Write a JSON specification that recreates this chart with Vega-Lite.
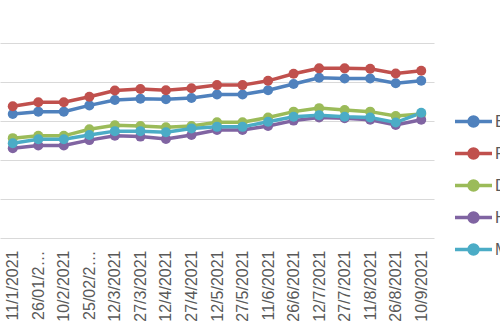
{
  "$schema": "https://vega.github.io/schema/vega-lite/v6.json",
  "width": 434,
  "height": 195,
  "autosize": {"type": "none"},
  "padding": {"left": 0, "top": 43, "right": 66, "bottom": 95},
  "background": "white",
  "config": {"view": {"stroke": null}, "font": "Liberation Sans"},
  "data": {"values": [
    {"date":"11/1/2021","series":"B","value":3.18},{"date":"26/01/2021","series":"B","value":3.24},{"date":"10/2/2021","series":"B","value":3.24},{"date":"25/02/2021","series":"B","value":3.40},{"date":"12/3/2021","series":"B","value":3.54},{"date":"27/3/2021","series":"B","value":3.57},{"date":"12/4/2021","series":"B","value":3.56},{"date":"27/4/2021","series":"B","value":3.59},{"date":"12/5/2021","series":"B","value":3.68},{"date":"27/5/2021","series":"B","value":3.68},{"date":"11/6/2021","series":"B","value":3.79},{"date":"26/6/2021","series":"B","value":3.95},{"date":"12/7/2021","series":"B","value":4.11},{"date":"27/7/2021","series":"B","value":4.09},{"date":"11/8/2021","series":"B","value":4.09},{"date":"26/8/2021","series":"B","value":3.97},{"date":"10/9/2021","series":"B","value":4.03},
    {"date":"11/1/2021","series":"F","value":3.38},{"date":"26/01/2021","series":"F","value":3.48},{"date":"10/2/2021","series":"F","value":3.48},{"date":"25/02/2021","series":"F","value":3.62},{"date":"12/3/2021","series":"F","value":3.78},{"date":"27/3/2021","series":"F","value":3.82},{"date":"12/4/2021","series":"F","value":3.79},{"date":"27/4/2021","series":"F","value":3.84},{"date":"12/5/2021","series":"F","value":3.92},{"date":"27/5/2021","series":"F","value":3.92},{"date":"11/6/2021","series":"F","value":4.03},{"date":"26/6/2021","series":"F","value":4.21},{"date":"12/7/2021","series":"F","value":4.35},{"date":"27/7/2021","series":"F","value":4.35},{"date":"11/8/2021","series":"F","value":4.34},{"date":"26/8/2021","series":"F","value":4.22},{"date":"10/9/2021","series":"F","value":4.29},
    {"date":"11/1/2021","series":"D","value":2.56},{"date":"26/01/2021","series":"D","value":2.62},{"date":"10/2/2021","series":"D","value":2.62},{"date":"25/02/2021","series":"D","value":2.79},{"date":"12/3/2021","series":"D","value":2.89},{"date":"27/3/2021","series":"D","value":2.87},{"date":"12/4/2021","series":"D","value":2.84},{"date":"27/4/2021","series":"D","value":2.87},{"date":"12/5/2021","series":"D","value":2.97},{"date":"27/5/2021","series":"D","value":2.97},{"date":"11/6/2021","series":"D","value":3.09},{"date":"26/6/2021","series":"D","value":3.24},{"date":"12/7/2021","series":"D","value":3.33},{"date":"27/7/2021","series":"D","value":3.28},{"date":"11/8/2021","series":"D","value":3.24},{"date":"26/8/2021","series":"D","value":3.13},{"date":"10/9/2021","series":"D","value":3.18},
    {"date":"11/1/2021","series":"H","value":2.30},{"date":"26/01/2021","series":"H","value":2.37},{"date":"10/2/2021","series":"H","value":2.37},{"date":"25/02/2021","series":"H","value":2.51},{"date":"12/3/2021","series":"H","value":2.62},{"date":"27/3/2021","series":"H","value":2.60},{"date":"12/4/2021","series":"H","value":2.54},{"date":"27/4/2021","series":"H","value":2.64},{"date":"12/5/2021","series":"H","value":2.77},{"date":"27/5/2021","series":"H","value":2.77},{"date":"11/6/2021","series":"H","value":2.87},{"date":"26/6/2021","series":"H","value":3.01},{"date":"12/7/2021","series":"H","value":3.09},{"date":"27/7/2021","series":"H","value":3.07},{"date":"11/8/2021","series":"H","value":3.03},{"date":"26/8/2021","series":"H","value":2.90},{"date":"10/9/2021","series":"H","value":3.03},
    {"date":"11/1/2021","series":"M","value":2.43},{"date":"26/01/2021","series":"M","value":2.53},{"date":"10/2/2021","series":"M","value":2.53},{"date":"25/02/2021","series":"M","value":2.64},{"date":"12/3/2021","series":"M","value":2.74},{"date":"27/3/2021","series":"M","value":2.74},{"date":"12/4/2021","series":"M","value":2.71},{"date":"27/4/2021","series":"M","value":2.81},{"date":"12/5/2021","series":"M","value":2.85},{"date":"27/5/2021","series":"M","value":2.85},{"date":"11/6/2021","series":"M","value":2.98},{"date":"26/6/2021","series":"M","value":3.11},{"date":"12/7/2021","series":"M","value":3.15},{"date":"27/7/2021","series":"M","value":3.11},{"date":"11/8/2021","series":"M","value":3.09},{"date":"26/8/2021","series":"M","value":2.96},{"date":"10/9/2021","series":"M","value":3.21}
  ]},
  "mark": {"type": "line", "strokeWidth": 3.5, "point": {"filled": true, "size": 100, "opacity": 1}},
  "encoding": {
    "x": {
      "field": "date", "type": "ordinal", "sort": null,
      "scale": {"type": "point", "padding": 0.5},
      "axis": {"title": null, "labelAngle": -90, "domain": false, "ticks": false, "labelPadding": 12, "labelFontSize": 16, "labelColor": "#595959", "labelLimit": 76, "labelOverlap": false}
    },
    "y": {
      "field": "value", "type": "quantitative",
      "scale": {"domain": [0, 5], "nice": false, "zero": false},
      "axis": {"title": null, "labels": false, "ticks": false, "domain": false, "values": [0, 1, 2, 3, 4, 5], "grid": true, "gridColor": "#D9D9D9", "gridWidth": 1.2}
    },
    "color": {
      "field": "series", "type": "nominal",
      "scale": {"domain": ["B", "F", "D", "H", "M"], "range": ["#4F81BD", "#C0504D", "#9BBB59", "#8064A2", "#4BACC6"]},
      "legend": {
        "title": null, "orient": "none", "legendX": 453, "legendY": 58,
        "padding": 0, "offset": 0,
        "symbolType": "M-1,0H1M-0.24,0A0.24,0.24 0 1,1 0.24,0A0.24,0.24 0 1,1 -0.24,0Z",
        "symbolSize": 1369, "symbolStrokeWidth": 3.5, "symbolOffset": 0,
        "labelFontSize": 16, "labelColor": "#595959", "labelOffset": 1,
        "rowPadding": 0,
        "encode": {"symbols": {"update": {"fill": {"scale": "color", "field": "value"}, "stroke": {"scale": "color", "field": "value"}, "opacity": {"value": 1}, "fillOpacity": {"value": 1}}}}
      }
    }
  }
}
